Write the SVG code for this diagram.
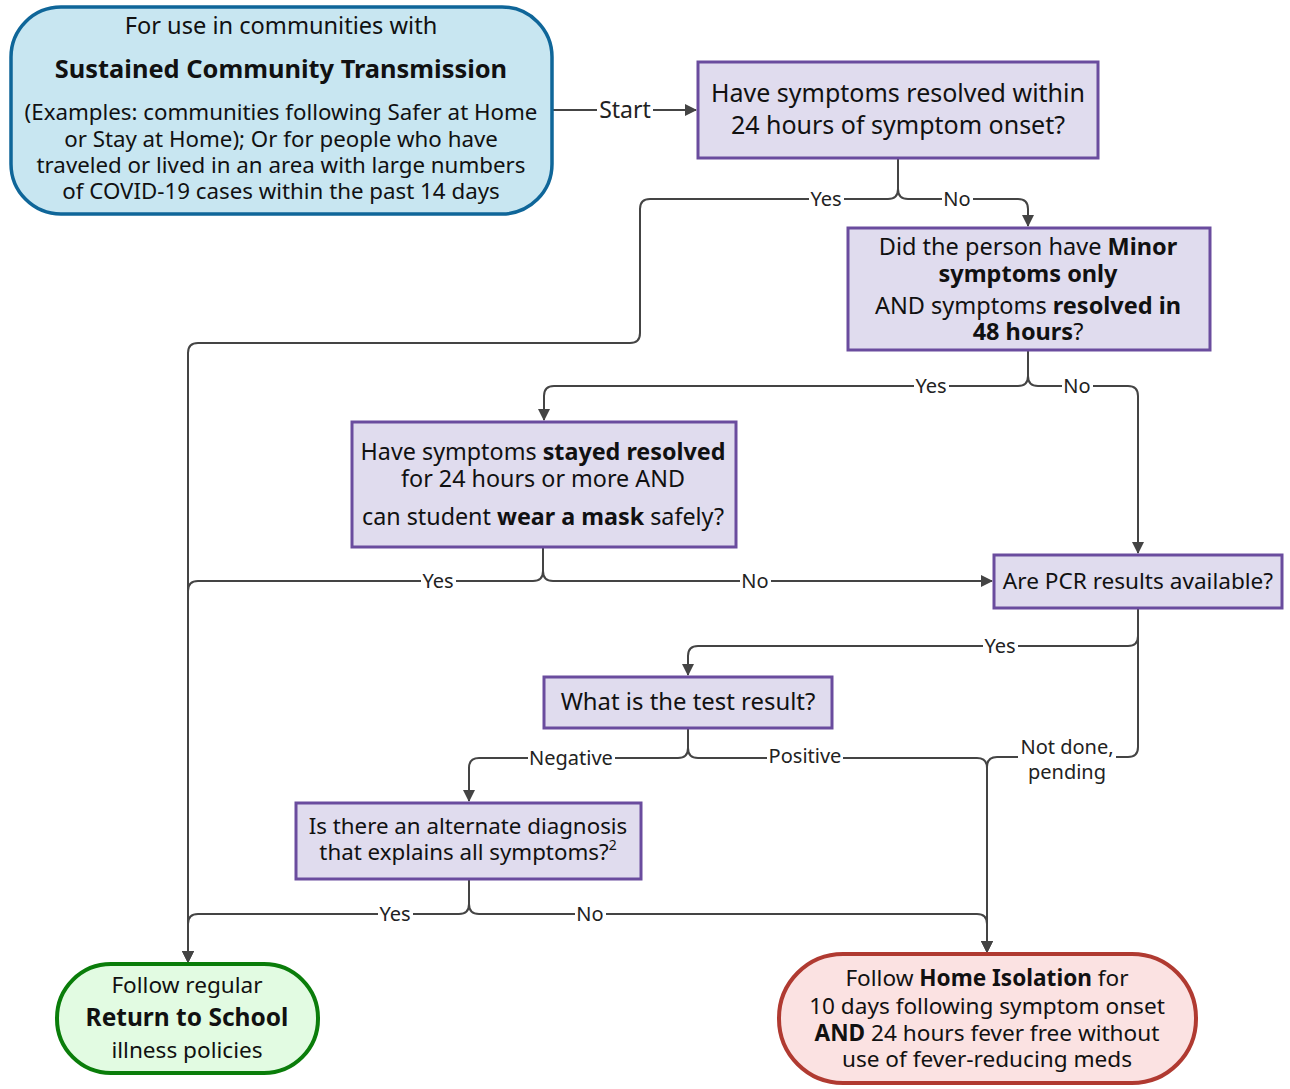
<svg xmlns="http://www.w3.org/2000/svg" width="1290" height="1089" viewBox="0 0 1290 1089">
<style>
text{font-family:"Noto Sans","Open Sans","DejaVu Sans",sans-serif;fill:#111;text-anchor:middle}
.q{fill:#e0dcee;stroke:#6a4c9e;stroke-width:3}
.t{font-size:22.6px}
.s{font-size:22.3px}
.b{font-weight:bold}
.lbl{font-size:20px;fill:#222}
.lb{fill:#fff}
.c{fill:none;stroke:#444;stroke-width:2}
</style>
<defs>
<marker id="ah" viewBox="0 0 12 12" markerWidth="12" markerHeight="12" refX="11" refY="6" orient="auto" markerUnits="userSpaceOnUse">
<path d="M0,0 L12,6 L0,12 z" fill="#444"/>
</marker>
</defs>
<g id="connectors">
<path class="c" d="M552,110 H696" marker-end="url(#ah)"/>
<path class="c" d="M898,158 V189 Q898,199 888,199 H650 Q640,199 640,209 V333 Q640,343 630,343 H198 Q188,343 188,353 V962" marker-end="url(#ah)"/>
<path class="c" d="M898,158 V189 Q898,199 908,199 H1018 Q1028,199 1028,209 V226" marker-end="url(#ah)"/>
<path class="c" d="M1028,350 V376 Q1028,386 1018,386 H554 Q544,386 544,396 V420" marker-end="url(#ah)"/>
<path class="c" d="M1028,350 V376 Q1028,386 1038,386 H1128 Q1138,386 1138,396 V553" marker-end="url(#ah)"/>
<path class="c" d="M543,547 V571 Q543,581 533,581 H198 Q188,581 188,591 V962" marker-end="url(#ah)"/>
<path class="c" d="M543,547 V571 Q543,581 553,581 H992" marker-end="url(#ah)"/>
<path class="c" d="M1138,608 V636 Q1138,646 1128,646 H698 Q688,646 688,656 V675" marker-end="url(#ah)"/>
<path class="c" d="M1138,608 V747 Q1138,757 1128,757 H997 Q987,757 987,767 V952" marker-end="url(#ah)"/>
<path class="c" d="M688,728 V748 Q688,758 678,758 H479 Q469,758 469,768 V801" marker-end="url(#ah)"/>
<path class="c" d="M688,728 V748 Q688,758 698,758 H977 Q987,758 987,768 V952" marker-end="url(#ah)"/>
<path class="c" d="M469,879 V904 Q469,914 459,914 H198 Q188,914 188,924 V962" marker-end="url(#ah)"/>
<path class="c" d="M469,879 V904 Q469,914 479,914 H977 Q987,914 987,924 V952" marker-end="url(#ah)"/>
<rect class="lb" x="597" y="97" width="56" height="26"/>
<text class="lbl" x="625" y="118" style="font-size:23px">Start</text>
<rect class="lb" x="809" y="188" width="35" height="22"/>
<text class="lbl" x="826" y="206">Yes</text>
<rect class="lb" x="942" y="188" width="31" height="22"/>
<text class="lbl" x="957" y="206">No</text>
<rect class="lb" x="914" y="375" width="35" height="22"/>
<text class="lbl" x="931" y="393">Yes</text>
<rect class="lb" x="1062" y="375" width="31" height="22"/>
<text class="lbl" x="1077" y="393">No</text>
<rect class="lb" x="421" y="570" width="35" height="22"/>
<text class="lbl" x="438" y="588">Yes</text>
<rect class="lb" x="740" y="570" width="31" height="22"/>
<text class="lbl" x="755" y="588">No</text>
<rect class="lb" x="983" y="635" width="35" height="22"/>
<text class="lbl" x="1000" y="653">Yes</text>
<rect class="lb" x="1018" y="735" width="98" height="48"/>
<text class="lbl" x="1067" y="754">Not done,</text>
<text class="lbl" x="1067" y="779">pending</text>
<rect class="lb" x="528" y="747" width="87" height="22"/>
<text class="lbl" x="571" y="765">Negative</text>
<rect class="lb" x="767" y="745" width="76" height="22"/>
<text class="lbl" x="805" y="763">Positive</text>
<rect class="lb" x="378" y="903" width="35" height="22"/>
<text class="lbl" x="395" y="921">Yes</text>
<rect class="lb" x="575" y="903" width="31" height="22"/>
<text class="lbl" x="590" y="921">No</text>
</g>
<g id="start">
<rect x="11" y="7" width="541" height="207" rx="50" fill="#c8e6f1" stroke="#0f6699" stroke-width="3.5"/>
<text x="281" y="34" style="font-size:23.6px">For use in communities with</text>
<text class="b" x="281" y="78" style="font-size:25.4px">Sustained Community Transmission</text>
<text class="s" x="281" y="120">(Examples: communities following Safer at Home</text>
<text class="s" x="281" y="147">or Stay at Home); Or for people who have</text>
<text class="s" x="281" y="173">traveled or lived in an area with large numbers</text>
<text class="s" x="281" y="199">of COVID-19 cases within the past 14 days</text>
</g>
<g id="q1">
<rect class="q" x="698" y="62" width="400" height="96"/>
<text x="898" y="102" style="font-size:25px">Have symptoms resolved within</text>
<text x="898" y="134" style="font-size:25px">24 hours of symptom onset?</text>
</g>
<g id="q2" style="font-size:23.5px">
<rect class="q" x="848" y="228" width="362" height="122"/>
<text x="1028" y="255">Did the person have <tspan class="b">Minor</tspan></text>
<text class="b" x="1028" y="282">symptoms only</text>
<text x="1028" y="314">AND symptoms <tspan class="b">resolved in</tspan></text>
<text x="1028" y="340"><tspan class="b">48 hours</tspan>?</text>
</g>
<g id="q3" style="font-size:23.3px">
<rect class="q" x="352" y="422" width="384" height="125"/>
<text x="543" y="460">Have symptoms <tspan class="b">stayed resolved</tspan></text>
<text x="543" y="487">for 24 hours or more AND</text>
<text x="543" y="525">can student <tspan class="b">wear a mask</tspan> safely?</text>
</g>
<g id="pcr">
<rect class="q" x="994" y="555" width="288" height="53"/>
<text class="t" x="1138" y="589">Are PCR results available?</text>
</g>
<g id="test">
<rect class="q" x="544" y="677" width="288" height="51"/>
<text x="688" y="710" style="font-size:23.9px">What is the test result?</text>
</g>
<g id="alt">
<rect class="q" x="296" y="803" width="345" height="76"/>
<text x="468" y="834" style="font-size:22.3px">Is there an alternate diagnosis</text>
<text x="468" y="860" style="font-size:22.3px">that explains all symptoms?<tspan dy="-10" style="font-size:14px">2</tspan></text>
</g>
<g id="return">
<rect x="57" y="964" width="261" height="109" rx="54" fill="#e2fbe2" stroke="#0a7d0a" stroke-width="4"/>
<text class="t" x="187" y="993">Follow regular</text>
<text class="b" x="187" y="1026" style="font-size:24.5px">Return to School</text>
<text class="t" x="187" y="1058">illness policies</text>
</g>
<g id="home">
<rect x="779" y="954" width="417" height="129" rx="64" fill="#fbe2e2" stroke="#b03a31" stroke-width="4"/>
<text class="t" x="987" y="986">Follow <tspan class="b">Home Isolation</tspan> for</text>
<text class="t" x="987" y="1014">10 days following symptom onset</text>
<text class="t" x="987" y="1041"><tspan class="b">AND</tspan> 24 hours fever free without</text>
<text class="t" x="987" y="1067">use of fever-reducing meds</text>
</g>
</svg>
